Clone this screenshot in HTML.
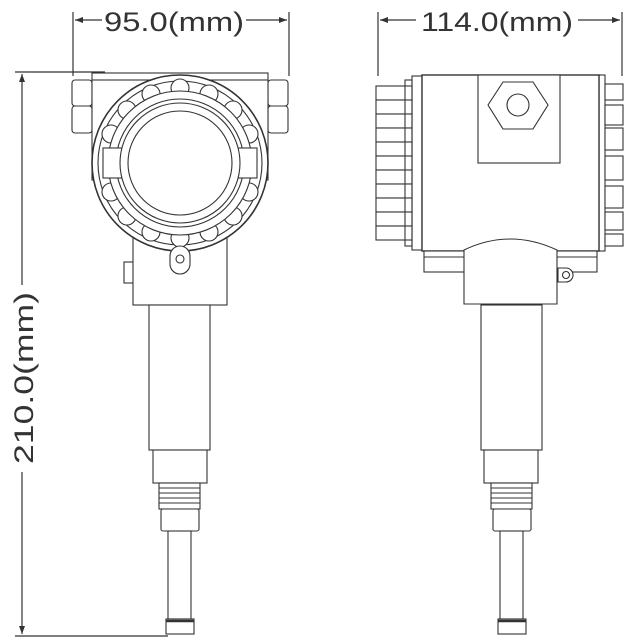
<!DOCTYPE html>
<html><head><meta charset="utf-8"><style>
html,body{margin:0;padding:0;background:#fff;}
svg{display:block;}
text{font-family:"Liberation Sans",sans-serif;fill:#333;}
</style></head><body>
<svg width="630" height="644" viewBox="0 0 630 644" xmlns="http://www.w3.org/2000/svg">
<defs>
<marker id="ar" markerWidth="8" markerHeight="6" refX="8" refY="3" orient="auto" markerUnits="userSpaceOnUse"><path d="M0,0 L8,3 L0,6 z" fill="#333"/></marker>
</defs>
<g stroke="#333" stroke-width="1.2" fill="none">
<!-- top left dimension -->
<line x1="73" y1="12" x2="73" y2="76"/>
<line x1="289" y1="12" x2="289" y2="76"/>
<line x1="102" y1="20" x2="75" y2="20" marker-end="url(#ar)"/>
<line x1="246" y1="20" x2="287" y2="20" marker-end="url(#ar)"/>
<!-- top right dimension -->
<line x1="378" y1="12" x2="378" y2="76"/>
<line x1="622" y1="12" x2="622" y2="76"/>
<line x1="416" y1="20" x2="380" y2="20" marker-end="url(#ar)"/>
<line x1="578" y1="20" x2="620" y2="20" marker-end="url(#ar)"/>
<!-- left vertical dimension -->
<line x1="15" y1="72" x2="105" y2="72"/>
<line x1="15" y1="636" x2="168" y2="636"/>
<line x1="22" y1="285" x2="22" y2="74" marker-end="url(#ar)"/>
<line x1="22" y1="472" x2="22" y2="634" marker-end="url(#ar)"/>
</g>
<text x="174" y="31" font-size="27" text-anchor="middle" textLength="140" lengthAdjust="spacingAndGlyphs">95.0(mm)</text>
<text x="497" y="31" font-size="27" text-anchor="middle" textLength="152" lengthAdjust="spacingAndGlyphs">114.0(mm)</text>
<text transform="translate(33,378) rotate(-90)" font-size="27" text-anchor="middle" textLength="172" lengthAdjust="spacingAndGlyphs">210.0(mm)</text>

<g stroke="#333" stroke-width="1.1" fill="#fff">
<!-- LEFT VIEW -->
<rect x="92" y="73" width="176" height="12"/>
<rect x="72" y="80" width="20" height="26" rx="3"/>
<rect x="72" y="106" width="20" height="27" rx="3"/>
<rect x="268" y="80" width="20" height="26" rx="3"/>
<rect x="268" y="106" width="20" height="27" rx="3"/>
<rect x="92" y="80" width="176" height="100"/>
<rect x="124" y="262" width="10" height="21"/>
<rect x="133" y="220" width="94" height="85"/>
<circle cx="180" cy="163" r="88" stroke-width="1.6"/>
<circle cx="180" cy="163" r="82"/>
<g>
<circle cx="180" cy="88" r="9"/><circle cx="209" cy="94" r="9"/><circle cx="233" cy="110" r="9"/><circle cx="249" cy="134" r="9"/>
<circle cx="249" cy="192" r="9"/><circle cx="233" cy="216" r="9"/><circle cx="209" cy="232" r="9"/><circle cx="180" cy="238" r="9"/>
<circle cx="151" cy="232" r="9"/><circle cx="127" cy="216" r="9"/><circle cx="111" cy="192" r="9"/><circle cx="111" cy="134" r="9"/>
<circle cx="127" cy="110" r="9"/><circle cx="151" cy="94" r="9"/>
</g>
<circle cx="180" cy="163" r="72"/>
<circle cx="180" cy="163" r="64" fill="none"/>
<rect x="103" y="148" width="26" height="30"/>
<rect x="231" y="148" width="26" height="30"/>
<circle cx="180" cy="163" r="60"/>
<circle cx="180" cy="163" r="52"/>
<path d="M170,256 a10,10 0 0 1 20,0 v8 a10,10 0 0 1 -20,0z"/>
<circle cx="180" cy="259" r="4"/>
<rect x="149" y="305" width="61" height="145"/>
<rect x="153" y="450" width="54" height="33"/>
<rect x="159" y="483" width="41" height="26"/>
<g fill="none"><line x1="159" y1="488" x2="200" y2="488"/><line x1="159" y1="493" x2="200" y2="493"/><line x1="159" y1="498" x2="200" y2="498"/><line x1="159" y1="503" x2="200" y2="503"/></g>
<rect x="161" y="509" width="38" height="22" rx="2"/>
<rect x="168" y="531" width="23" height="88"/>
<rect x="166" y="619" width="28" height="15"/>
<line x1="166" y1="621" x2="194" y2="621" stroke-width="2.5"/>

<!-- RIGHT VIEW -->
<!-- left fins -->
<g>
<rect x="412" y="76" width="10" height="174"/>
<rect x="376" y="86" width="36" height="14"/><rect x="376" y="100" width="36" height="14"/>
<rect x="376" y="114" width="36" height="14"/><rect x="376" y="128" width="36" height="14"/>
<rect x="376" y="142" width="36" height="14"/><rect x="376" y="156" width="36" height="14"/>
<rect x="376" y="170" width="36" height="14"/><rect x="376" y="184" width="36" height="14"/>
<rect x="376" y="198" width="36" height="14"/><rect x="376" y="212" width="36" height="14"/>
<rect x="376" y="226" width="36" height="14"/>
<rect x="405" y="80" width="7" height="166" fill="none"/>
</g>
<!-- right fins -->
<rect x="599" y="75" width="6" height="176"/>
<g>
<rect x="605" y="84" width="18" height="16"/><rect x="605" y="105" width="18" height="20"/>
<rect x="605" y="128" width="18" height="22"/><rect x="605" y="156" width="18" height="24"/>
<rect x="605" y="186" width="18" height="22"/><rect x="605" y="212" width="18" height="18"/>
<rect x="605" y="234" width="18" height="12"/>
</g>
<rect x="422" y="75" width="177" height="176" stroke-width="1.4"/>
<rect x="478" y="75" width="82" height="88"/>
<polygon points="488,105 503,82 533,82 548,105 533,129 503,129"/>
<circle cx="518" cy="105" r="11"/>
<rect x="424" y="251" width="41" height="21"/>
<rect x="556" y="251" width="41" height="21"/>
<line x1="424" y1="257" x2="465" y2="257"/>
<line x1="556" y1="257" x2="597" y2="257"/>
<path d="M464,304 L464,250 Q510,228 557,250 L557,304 Z"/>
<path d="M558,268 h8 a6,6 0 0 1 0,14 h-8 z"/>
<circle cx="566" cy="275" r="3.5"/>
<rect x="481" y="305" width="61" height="145"/>
<rect x="484" y="450" width="54" height="33"/>
<rect x="491" y="483" width="41" height="26"/>
<g fill="none"><line x1="491" y1="488" x2="532" y2="488"/><line x1="491" y1="493" x2="532" y2="493"/><line x1="491" y1="498" x2="532" y2="498"/><line x1="491" y1="503" x2="532" y2="503"/></g>
<rect x="493" y="509" width="38" height="22" rx="2"/>
<rect x="500" y="531" width="23" height="88"/>
<rect x="498" y="619" width="28" height="15"/>
<line x1="498" y1="621" x2="526" y2="621" stroke-width="2.5"/>
</g>
</svg>
</body></html>
